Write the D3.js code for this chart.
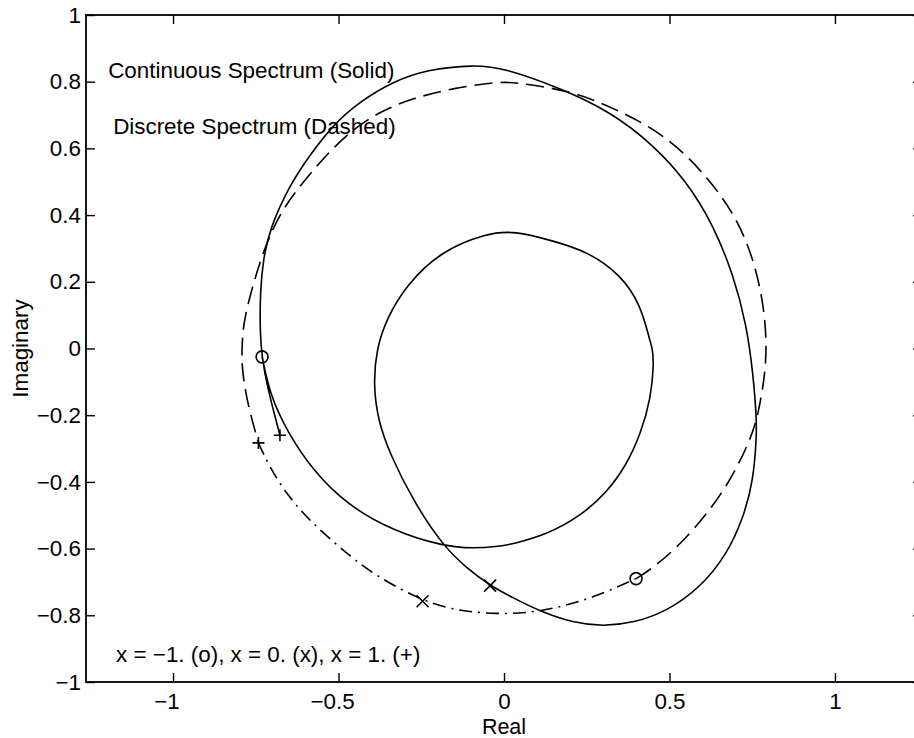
<!DOCTYPE html>
<html>
<head>
<meta charset="utf-8">
<script src="https://cdn.jsdelivr.net/npm/d3@7"></script>
<style>
  body { margin: 0; background: #fff; }
  svg { display: block; font-family: "Liberation Sans", Arial, Helvetica, sans-serif; }
</style>
</head>
<body>
<svg id="chart"></svg>
<script>
// tick values
const xTicks = [-1, -0.5, 0, 0.5, 1];
const yTicks = [-1, -0.8, -0.6, -0.4, -0.2, 0, 0.2, 0.4, 0.6, 0.8, 1];

// continuous spectrum (real, imaginary), from x=-1 to x=1
const continuous = [
  [-0.731, -0.025], [-0.707, -0.139], [-0.656, -0.248], [-0.576, -0.368],
  [-0.475, -0.468], [-0.334, -0.548], [-0.183, -0.593], [-0.093, -0.600],
  [-0.012, -0.593], [0.028, -0.586], [0.129, -0.558], [0.230, -0.503],
  [0.310, -0.433], [0.371, -0.348], [0.414, -0.253], [0.444, -0.148],
  [0.453, -0.043], [0.448, 0.002], [0.441, 0.022], [0.413, 0.131],
  [0.353, 0.221], [0.252, 0.291], [0.151, 0.322], [0.030, 0.353],
  [-0.051, 0.346], [-0.193, 0.291], [-0.294, 0.191], [-0.354, 0.091],
  [-0.385, 0.001], [-0.395, -0.109], [-0.380, -0.218], [-0.344, -0.318],
  [-0.274, -0.458], [-0.183, -0.593], [-0.113, -0.658], [-0.042, -0.711],
  [0.028, -0.748], [0.109, -0.788], [0.209, -0.823], [0.300, -0.833],
  [0.391, -0.823], [0.492, -0.788], [0.592, -0.718], [0.673, -0.618],
  [0.723, -0.508], [0.753, -0.398], [0.763, -0.268], [0.763, -0.208],
  [0.753, -0.079], [0.733, 0.071], [0.693, 0.221], [0.632, 0.371],
  [0.552, 0.501], [0.451, 0.611], [0.320, 0.711], [0.169, 0.781],
  [0.000, 0.841], [-0.091, 0.851], [-0.234, 0.836], [-0.334, 0.801],
  [-0.435, 0.741], [-0.516, 0.671], [-0.586, 0.581], [-0.647, 0.491],
  [-0.707, 0.361], [-0.727, 0.271], [-0.737, 0.172], [-0.737, 0.041],
  [-0.731, -0.025], [-0.717, -0.109], [-0.677, -0.260]
];

// discrete spectrum, dashed part
const discreteDashed = [
  [0.399, -0.690], [0.451, -0.658], [0.532, -0.588], [0.612, -0.498],
  [0.683, -0.398], [0.743, -0.278], [0.768, -0.199], [0.789, -0.079],
  [0.794, 0.022], [0.783, 0.142], [0.753, 0.271], [0.703, 0.391],
  [0.632, 0.491], [0.552, 0.581], [0.451, 0.661], [0.330, 0.721],
  [0.209, 0.771], [0.050, 0.796], [-0.012, 0.801], [-0.153, 0.781],
  [-0.274, 0.751], [-0.375, 0.711], [-0.465, 0.651], [-0.536, 0.581],
  [-0.606, 0.501], [-0.667, 0.421], [-0.707, 0.341], [-0.737, 0.261],
  [-0.767, 0.161], [-0.788, 0.071], [-0.792, 0.001], [-0.792, -0.058],
  [-0.777, -0.158], [-0.742, -0.283]
];

// discrete spectrum, dash-dot part
const discreteDashDot = [
  [-0.742, -0.283], [-0.707, -0.358], [-0.656, -0.438], [-0.586, -0.518],
  [-0.495, -0.598], [-0.395, -0.678], [-0.246, -0.758], [-0.133, -0.788],
  [-0.022, -0.796], [0.079, -0.793], [0.179, -0.773], [0.280, -0.743],
  [0.399, -0.690]
];

// markers at x = -1 (o), x = 0 (x), x = 1 (+)
const markO = [[-0.731, -0.025], [0.399, -0.690]];
const markX = [[-0.042, -0.711], [-0.246, -0.758]];
const markPlus = [[-0.677, -0.260], [-0.742, -0.283]];

const width = 914;
const height = 738;
const plotLeft = 86, plotRight = 922, plotTop = 15, plotBottom = 682;
const fontSize = 22.4;

const svg = d3.select("#chart").attr("width", width).attr("height", height);

const x = d3.scaleLinear().domain([-1.263, 1.263]).range([plotLeft, plotRight]);
const y = d3.scaleLinear().domain([-1, 1]).range([plotBottom, plotTop]);

const fmt = d3.format("");

// axes, ticks pointing inward
const xAxis = svg.append("g")
  .attr("transform", "translate(0," + plotBottom + ")")
  .call(d3.axisBottom(x).tickValues(xTicks).tickSize(-9).tickSizeOuter(0).tickPadding(11).tickFormat(fmt));
xAxis.selectAll("text").attr("dx", (d) => (d < 0 ? "-0.29em" : null));

svg.append("g")
  .attr("transform", "translate(0," + plotTop + ")")
  .call(d3.axisTop(x).tickValues(xTicks).tickSize(-9).tickSizeOuter(0).tickFormat(""));

svg.append("g")
  .attr("transform", "translate(" + plotLeft + ",0)")
  .call(d3.axisLeft(y).tickValues(yTicks).tickSize(-9).tickSizeOuter(0).tickPadding(5).tickFormat(fmt));

svg.append("g")
  .attr("transform", "translate(" + plotRight + ",0)")
  .call(d3.axisRight(y).tickValues(yTicks).tickSize(-9).tickSizeOuter(0).tickFormat(""));

svg.selectAll(".domain").remove();
svg.selectAll(".tick line").attr("stroke", "#000").attr("stroke-width", 1.4);
svg.selectAll(".tick text")
  .attr("fill", "#000")
  .attr("font-size", fontSize)
  .attr("font-family", "Liberation Sans, Arial, sans-serif");

// frame
svg.append("rect")
  .attr("x", plotLeft).attr("y", plotTop)
  .attr("width", plotRight - plotLeft).attr("height", plotBottom - plotTop)
  .attr("fill", "none").attr("stroke", "#000").attr("stroke-width", 1.8);

const line = d3.line()
  .x((d) => x(d[0]))
  .y((d) => y(d[1]))
  .curve(d3.curveBasis);

svg.append("path")
  .attr("d", line(continuous))
  .attr("fill", "none").attr("stroke", "#000").attr("stroke-width", 1.6);

svg.append("path")
  .attr("d", line(discreteDashed))
  .attr("fill", "none").attr("stroke", "#000").attr("stroke-width", 1.6)
  .attr("stroke-dasharray", "18,8");

svg.append("path")
  .attr("d", line(discreteDashDot))
  .attr("fill", "none").attr("stroke", "#000").attr("stroke-width", 1.6)
  .attr("stroke-dasharray", "13,6,2,6");

// markers
svg.selectAll(".mark-o").data(markO).enter().append("circle")
  .attr("class", "mark-o")
  .attr("cx", (d) => x(d[0])).attr("cy", (d) => y(d[1])).attr("r", 6)
  .attr("fill", "none").attr("stroke", "#000").attr("stroke-width", 1.6);

svg.selectAll(".mark-x").data(markX).enter().append("path")
  .attr("class", "mark-x")
  .attr("transform", (d) => "translate(" + x(d[0]) + "," + y(d[1]) + ")")
  .attr("d", "M-6,-6L6,6M-6,6L6,-6")
  .attr("fill", "none").attr("stroke", "#000").attr("stroke-width", 1.6);

svg.selectAll(".mark-plus").data(markPlus).enter().append("path")
  .attr("class", "mark-plus")
  .attr("transform", (d) => "translate(" + x(d[0]) + "," + y(d[1]) + ")")
  .attr("d", "M-6,0L6,0M0,-6L0,6")
  .attr("fill", "none").attr("stroke", "#000").attr("stroke-width", 1.6);

// annotations
svg.append("text").attr("x", x(-1.196)).attr("y", y(0.811))
  .attr("font-size", fontSize).text("Continuous Spectrum (Solid)");
svg.append("text").attr("x", x(-1.181)).attr("y", y(0.643))
  .attr("font-size", fontSize).text("Discrete Spectrum (Dashed)");
svg.append("text").attr("x", x(-1.172)).attr("y", y(-0.94))
  .attr("font-size", fontSize).text("x = \u22121. (o), x = 0. (x), x = 1. (+)");

// axis labels
svg.append("text")
  .attr("x", x(0)).attr("y", 733.5)
  .attr("text-anchor", "middle").attr("font-size", 21.5).text("Real");
svg.append("text")
  .attr("transform", "translate(28," + y(0) + ") rotate(-90)")
  .attr("text-anchor", "middle").attr("font-size", fontSize).text("Imaginary");
</script>
</body>
</html>
